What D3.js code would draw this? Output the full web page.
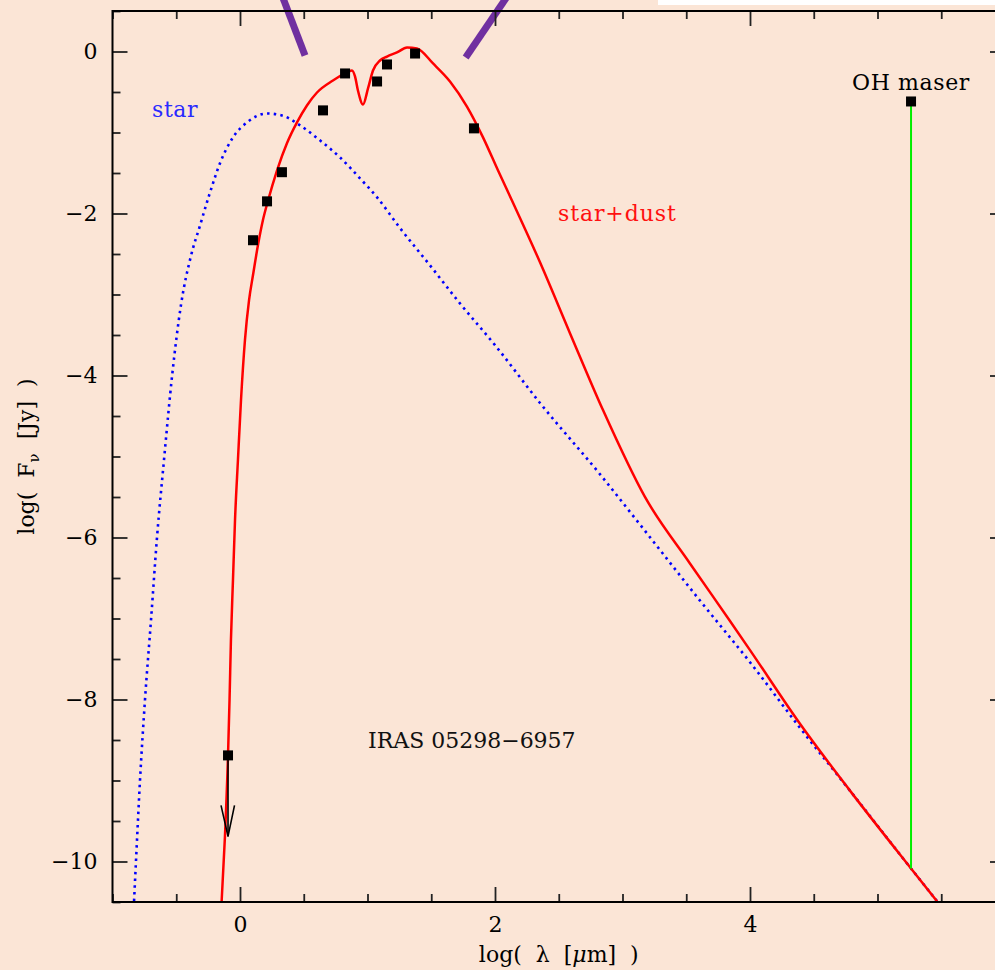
<!DOCTYPE html>
<html>
<head>
<meta charset="utf-8">
<script src="https://cdn.jsdelivr.net/npm/d3@7"></script>
<style>
  html, body { margin: 0; padding: 0; background: #FBE5D6; }
  svg { display: block; }
  text { font-family: "DejaVu Serif", serif; }
</style>
</head>
<body>
<div id="chart"></div>
<script>
// Spectral energy distribution of IRAS 05298-6957 (log-log)

// Stellar photosphere model (blue dotted)
const starLogLambda = [-0.831, -0.816, -0.784, -0.745, -0.698, -0.651, -0.596, -0.533, -0.463, -0.384,
  -0.314, -0.243, -0.157, -0.055, 0.055, 0.212, 0.329, 0.471, 0.627, 0.784,
  0.941, 1.075, 1.255, 1.490, 1.725, 2.0, 2.353, 2.824, 3.137, 3.608,
  4.0, 4.392, 4.784, 5.263, 5.467];
const starLogF = [-10.49, -10.0, -8.99, -8.0, -7.02, -6.0, -5.04, -4.01, -3.13, -2.52,
  -2.15, -1.78, -1.38, -1.06, -0.875, -0.765, -0.789, -0.912, -1.097, -1.307,
  -1.566, -1.80, -2.18, -2.64, -3.11, -3.625, -4.34, -5.22, -5.84, -6.78,
  -7.54, -8.35, -9.125, -10.086, -10.49];

// Star + dust shell model (red solid)
const modelLogLambda = [-0.144, -0.118, -0.094, -0.082, -0.071, -0.055, -0.039, -0.016, 0.008, 0.039,
  0.071, 0.102, 0.141, 0.180, 0.220, 0.290, 0.369, 0.447, 0.525, 0.604,
  0.729, 0.824, 0.878, 0.902, 0.925, 0.965, 1.004, 1.043, 1.098, 1.153,
  1.231, 1.310, 1.388, 1.514, 1.647, 1.780, 1.906, 2.024, 2.133, 2.353,
  2.588, 2.847, 3.176, 3.529, 3.843, 4.0, 4.392, 4.784, 5.263, 5.467];
const modelLogF = [-10.49, -9.69, -8.69, -8.0, -7.26, -6.52, -5.78, -5.04, -4.30, -3.56,
  -3.07, -2.76, -2.39, -2.08, -1.84, -1.47, -1.13, -0.875, -0.666, -0.506,
  -0.358, -0.271, -0.234, -0.308, -0.481, -0.654, -0.456, -0.234, -0.111, -0.062,
  -0.012, 0.049, 0.037, -0.148, -0.37, -0.68, -1.06, -1.47, -1.84, -2.602,
  -3.477, -4.427, -5.499, -6.32, -7.03, -7.39, -8.30, -9.125, -10.086, -10.49];

// Photometry (black squares)
const photLogLambda = [-0.094, 0.102, 0.212, 0.329, 0.651, 0.824, 1.075, 1.153, 1.373, 1.835];
const photLogF = [-8.69, -2.33, -1.85, -1.49, -0.727, -0.271, -0.370, -0.160, -0.025, -0.949];
// Upper limit: the first photometric point, arrow tip
const limitIndex = 0;
const limitTipLogF = -9.69;

// OH maser detection
const maserLogLambda = 5.263;
const maserLogF = -0.617;
const maserFloorLogF = -10.086;

// Partial overlay strokes entering from above
const overlayStrokes = [
  [[0.33, 0.69], [0.51, -0.05]],
  [[2.10, 0.69], [1.77, -0.074]]
];

// Axis ticks
const xMajorTicks = [0, 2, 4, 6];
const xTickLabels = ["0", "2", "4", ""];
const yMajorTicks = [0, -2, -4, -6, -8, -10];
const yTickLabels = ["0", "\u22122", "\u22124", "\u22126", "\u22128", "\u221210"];
const xMinorTicks = d3.range(-1, 6.01, 0.5).filter(v => !xMajorTicks.includes(v));
const yMinorTicks = d3.range(-10.5, 0.51, 0.5).filter(v => !yMajorTicks.includes(v));

const W = 995, H = 970;
const mLeft = 112.5, mRight = 1005, mTop = 11, mBottom = 902;
const FS = "22px";

const x = d3.scaleLinear().domain([-1, 6]).range([mLeft, mRight]);
const y = d3.scaleLinear().domain([-10.5, 0.5]).range([mBottom, mTop]);

const svg = d3.select("#chart").append("svg")
  .attr("width", W).attr("height", H)
  .attr("viewBox", `0 0 ${W} ${H}`);

svg.append("rect").attr("width", W).attr("height", H).attr("fill", "#FBE5D6");
svg.append("rect").attr("x", 658).attr("y", 0).attr("width", W - 658).attr("height", 5).attr("fill", "#ffffff");

svg.append("defs").append("clipPath").attr("id", "plotClip")
  .append("rect").attr("x", mLeft).attr("y", mTop)
  .attr("width", mRight - mLeft).attr("height", mBottom - mTop);

const plot = svg.append("g").attr("clip-path", "url(#plotClip)");

const line = d3.line()
  .x(d => x(d[0])).y(d => y(d[1]))
  .curve(d3.curveMonotoneX);

const starPts = starLogLambda.map((v, i) => [v, starLogF[i]]);
const modelPts = modelLogLambda.map((v, i) => [v, modelLogF[i]]);

plot.append("path").datum(starPts)
  .attr("d", line)
  .attr("fill", "none")
  .attr("stroke", "#0000ff")
  .attr("stroke-width", 2.6)
  .attr("stroke-dasharray", "2.5,4.2");

plot.append("path").datum(modelPts)
  .attr("d", line)
  .attr("fill", "none")
  .attr("stroke", "#ff0000")
  .attr("stroke-width", 2.5);

// OH maser line
plot.append("line")
  .attr("x1", x(maserLogLambda)).attr("x2", x(maserLogLambda))
  .attr("y1", y(maserLogF)).attr("y2", y(maserFloorLogF))
  .attr("stroke", "#00ee00").attr("stroke-width", 2);

// Upper-limit arrow
const ax = x(photLogLambda[limitIndex]);
const tipY = y(limitTipLogF);
plot.append("line")
  .attr("x1", ax).attr("x2", ax)
  .attr("y1", y(photLogF[limitIndex])).attr("y2", tipY)
  .attr("stroke", "#000").attr("stroke-width", 1.6);
plot.append("path")
  .attr("d", `M${ax - 7},${tipY - 31}L${ax},${tipY}L${ax + 6.5},${tipY - 31}`)
  .attr("fill", "none").attr("stroke", "#000").attr("stroke-width", 1.6);

// Photometric points
const sq = 10;
plot.selectAll("rect.phot")
  .data(photLogLambda.map((v, i) => [v, photLogF[i]]))
  .join("rect").attr("class", "phot")
  .attr("x", d => x(d[0]) - sq / 2).attr("y", d => y(d[1]) - sq / 2)
  .attr("width", sq).attr("height", sq).attr("fill", "#000");

plot.append("rect")
  .attr("x", x(maserLogLambda) - sq / 2).attr("y", y(maserLogF) - sq / 2)
  .attr("width", sq).attr("height", sq).attr("fill", "#000");

// Overlay strokes (run above the frame)
svg.selectAll("line.overlay")
  .data(overlayStrokes)
  .join("line").attr("class", "overlay")
  .attr("x1", d => x(d[0][0])).attr("y1", d => y(d[0][1]))
  .attr("x2", d => x(d[1][0])).attr("y2", d => y(d[1][1]))
  .attr("stroke", "#7030A0").attr("stroke-width", 7);

// Axes with inward ticks
function styleAxis(g) {
  g.select(".domain").remove();
  g.selectAll("line").attr("stroke", "#222").attr("stroke-width", 1.8);
  g.selectAll("text").attr("fill", "#000").style("font-size", FS)
    .style("font-family", "DejaVu Serif, serif");
}

// bottom
svg.append("g").attr("transform", `translate(0,${mBottom})`)
  .call(d3.axisBottom(x).tickValues(xMajorTicks).tickSize(-15).tickPadding(14)
    .tickFormat((d, i) => xTickLabels[i]))
  .call(styleAxis);
svg.append("g").attr("transform", `translate(0,${mBottom})`)
  .call(d3.axisBottom(x).tickValues(xMinorTicks).tickSize(-8).tickFormat(""))
  .call(styleAxis);
// top
svg.append("g").attr("transform", `translate(0,${mTop})`)
  .call(d3.axisTop(x).tickValues(xMajorTicks).tickSize(-15).tickFormat(""))
  .call(styleAxis);
svg.append("g").attr("transform", `translate(0,${mTop})`)
  .call(d3.axisTop(x).tickValues(xMinorTicks).tickSize(-8).tickFormat(""))
  .call(styleAxis);
// left
svg.append("g").attr("transform", `translate(${mLeft},0)`)
  .call(d3.axisLeft(y).tickValues(yMajorTicks).tickSize(-15).tickPadding(15)
    .tickFormat((d, i) => yTickLabels[i]))
  .call(styleAxis);
svg.append("g").attr("transform", `translate(${mLeft},0)`)
  .call(d3.axisLeft(y).tickValues(yMinorTicks).tickSize(-8).tickFormat(""))
  .call(styleAxis);
// right
svg.append("g").attr("transform", `translate(${mRight},0)`)
  .call(d3.axisRight(y).tickValues(yMajorTicks).tickSize(-15).tickFormat(""))
  .call(styleAxis);
svg.append("g").attr("transform", `translate(${mRight},0)`)
  .call(d3.axisRight(y).tickValues(yMinorTicks).tickSize(-8).tickFormat(""))
  .call(styleAxis);

// frame
svg.append("rect")
  .attr("x", mLeft).attr("y", mTop)
  .attr("width", mRight - mLeft).attr("height", mBottom - mTop)
  .attr("fill", "none").attr("stroke", "#000").attr("stroke-width", 2);

// Axis titles
const xt = svg.append("text")
  .attr("x", (mLeft + mRight) / 2).attr("y", 962)
  .attr("xml:space", "preserve")
  .attr("text-anchor", "middle").style("font-size", FS);
xt.append("tspan").text("log(  \u03bb  [");
xt.append("tspan").attr("font-style", "italic").text("\u03bc");
xt.append("tspan").text("m]  )");

const yt = svg.append("text")
  .attr("transform", `translate(34,${(mTop + mBottom) / 2}) rotate(-90)`)
  .attr("xml:space", "preserve")
  .attr("text-anchor", "middle").style("font-size", FS);
yt.append("tspan").text("log(  F");
yt.append("tspan").attr("dy", 5).style("font-size", "15px").text("\u03bd");
yt.append("tspan").attr("dy", -5).text("  [Jy]  )");

// Annotations
function note(tx, ty, str, color, anchor, spacing) {
  svg.append("text").attr("x", tx).attr("y", ty)
    .attr("text-anchor", anchor || "start")
    .attr("fill", color).style("font-size", FS)
    .style("letter-spacing", spacing || "0.6px").text(str);
}
note(152, 117, "star", "#2a2aff");
note(558, 221, "star+dust", "#ff1010", "start", "0.9px");
note(368, 748, "IRAS 05298\u22126957", "#111", "start", "0px");
note(911, 90, "OH maser", "#000", "middle");
</script>
</body>
</html>
